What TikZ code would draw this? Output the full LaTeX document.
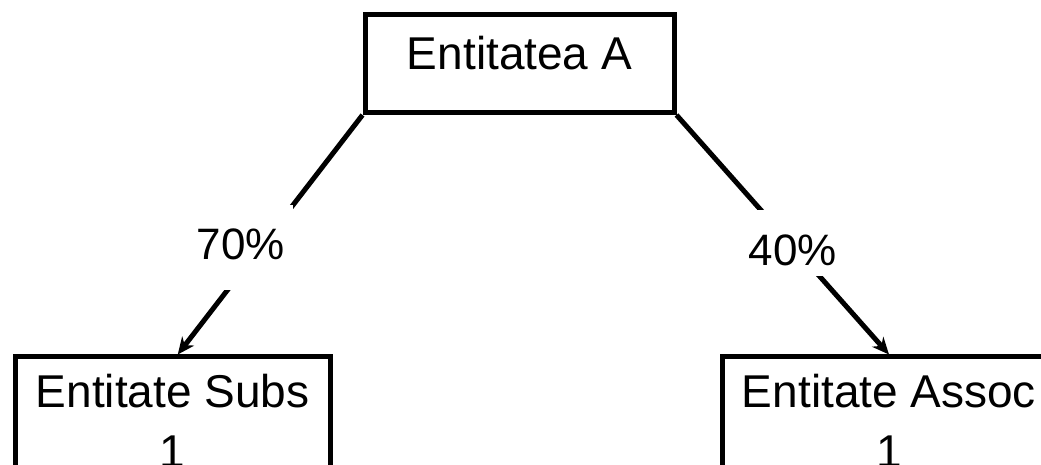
\documentclass[tikz,border=0pt]{standalone}
\usepackage{fontspec}
\setmainfont{Liberation Sans}
\usetikzlibrary{arrows.meta, positioning}

\begin{document}
\begin{tikzpicture}[x=1pt, y=1pt,
  ent/.style={draw, line width=5pt, align=center, inner xsep=0pt,
    inner ysep=20pt, font=\fontsize{46}{60}\selectfont},
  arr/.style={-{Stealth[length=17pt, width=15pt]}, line width=5pt},
  pct/.style={fill=white, inner xsep=8pt, inner ysep=10pt,
    font=\fontsize{44}{52}\selectfont}
]
  \useasboundingbox (0,0) rectangle (1041,465);
  \clip (0,0) rectangle (1041,465);

  % Parent entity
  \node[ent, anchor=north, minimum width=309pt, text height=35pt,
    text depth=23pt] (entA) at (519.5, 453) {Entitatea A};

  % Subsidiary
  \node[ent, anchor=north, minimum width=314.5pt, text height=90.5pt,
    text depth=30pt] (subs) at (172.75, 110.5) {Entitate Subs\\1};

  % Associate
  \node[ent, anchor=north, minimum width=334pt, text height=90.5pt,
    text depth=30pt] (assoc) at (889, 110.5) {Entitate Assoc\\1};

  % Holdings
  \draw[arr] (entA.south west) -- ([xshift=5pt]subs.north);
  \draw[arr] (entA.south east) -- (assoc.north);

  % Percentages
  \node[pct, anchor=base, text height=45pt, text depth=20pt] (p70)
    at (241, 205) {70\%};
  \node[pct, anchor=base, text height=46pt, text depth=0pt] (p40)
    at (793, 199) {40\%};
\end{tikzpicture}
\end{document}
